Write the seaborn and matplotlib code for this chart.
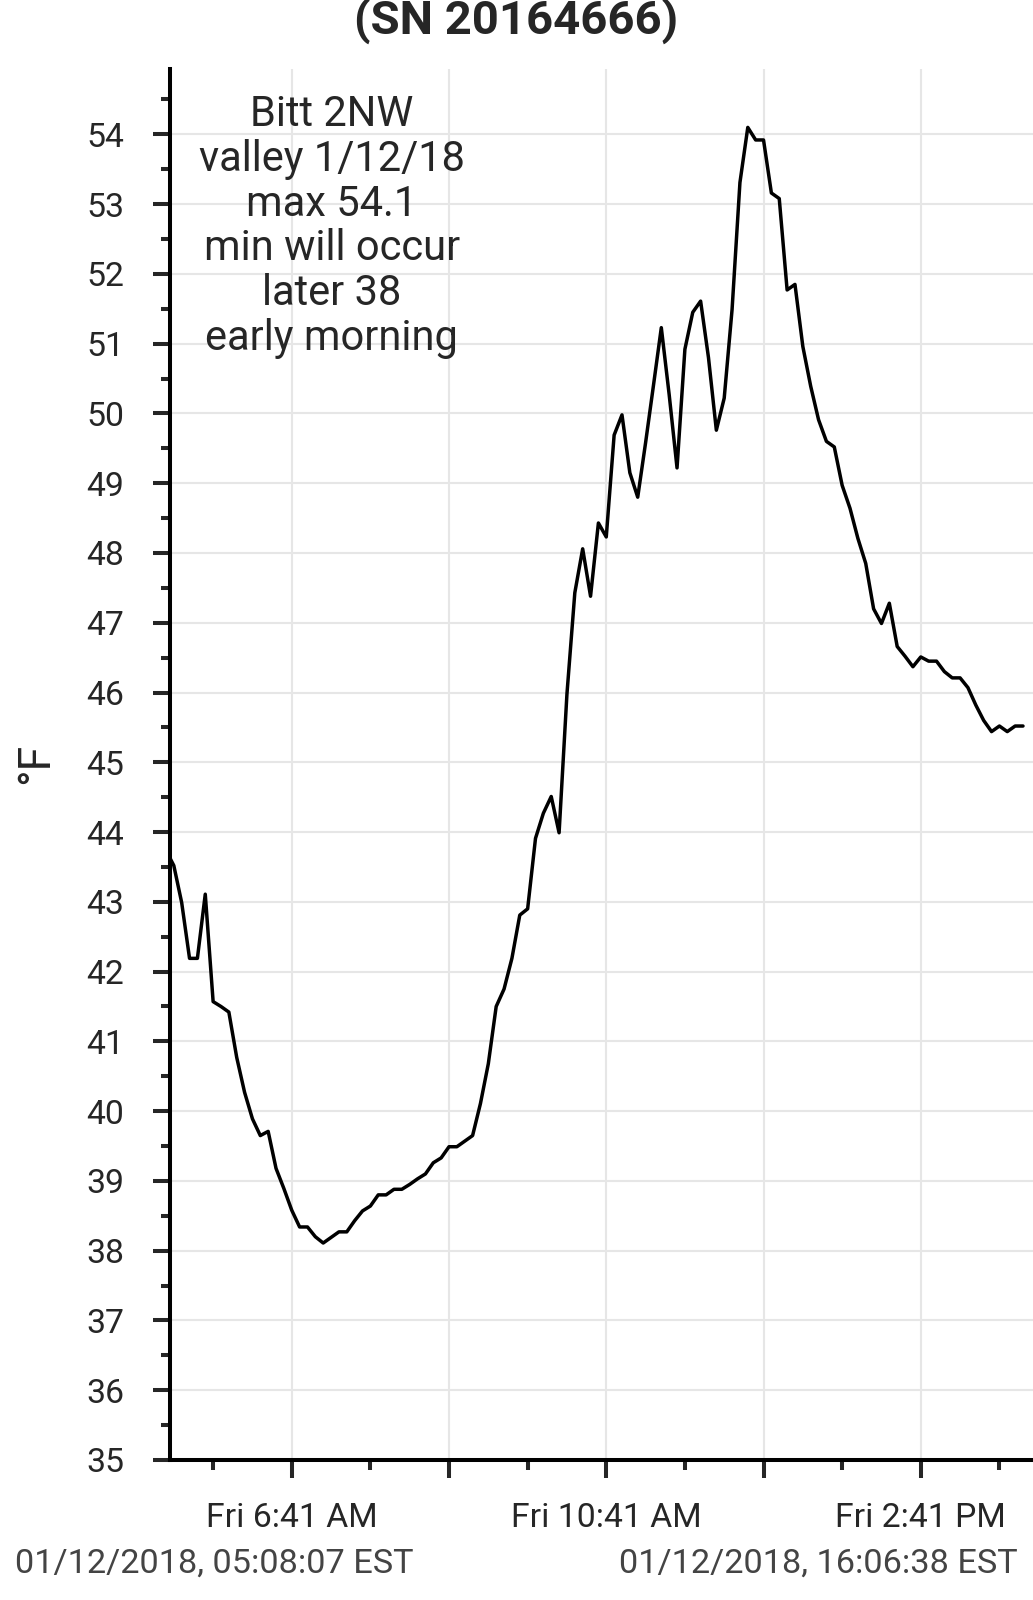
import pandas as pd
import matplotlib
matplotlib.use("Agg")
import matplotlib.pyplot as plt
import matplotlib.dates as mdates
from matplotlib.ticker import MultipleLocator, FixedLocator
import seaborn as sns

# readings from the logger (clock time, deg F)
times = [
    "05:08", "05:11", "05:17", "05:23", "05:29", "05:35", "05:41", "05:47", "05:53", "05:59",
    "06:05", "06:11", "06:17", "06:23", "06:29", "06:35", "06:41", "06:47", "06:53", "06:59",
    "07:05", "07:11", "07:17", "07:23", "07:29", "07:35", "07:41", "07:47", "07:53", "07:59",
    "08:05", "08:11", "08:17", "08:23", "08:29", "08:35", "08:41", "08:47", "08:53", "08:59",
    "09:05", "09:11", "09:17", "09:23", "09:29", "09:35", "09:41", "09:47", "09:53", "09:59",
    "10:05", "10:11", "10:17", "10:23", "10:29", "10:35", "10:41", "10:47", "10:53", "10:59",
    "11:05", "11:11", "11:17", "11:23", "11:29", "11:35", "11:41", "11:47", "11:53", "11:59",
    "12:05", "12:11", "12:17", "12:23", "12:29", "12:35", "12:41", "12:47", "12:53", "12:59",
    "13:05", "13:11", "13:17", "13:23", "13:29", "13:35", "13:41", "13:47", "13:53", "13:59",
    "14:05", "14:11", "14:17", "14:23", "14:29", "14:35", "14:41", "14:47", "14:53", "14:59",
    "15:05", "15:11", "15:17", "15:23", "15:29", "15:35", "15:41", "15:47", "15:53", "15:59",
]
temps = [
    43.63, 43.52, 42.99, 42.19, 42.19, 43.11, 41.57, 41.50, 41.42, 40.77,
    40.27, 39.89, 39.65, 39.71, 39.18, 38.89, 38.58, 38.34, 38.34, 38.20,
    38.11, 38.19, 38.27, 38.27, 38.43, 38.57, 38.64, 38.80, 38.80, 38.88,
    38.88, 38.95, 39.03, 39.10, 39.26, 39.33, 39.49, 39.49, 39.57, 39.65,
    40.11, 40.68, 41.50, 41.75, 42.19, 42.81, 42.90, 43.91, 44.27, 44.51,
    43.99, 45.98, 47.43, 48.06, 47.38, 48.43, 48.23, 49.69, 49.98, 49.15,
    48.80, 49.58, 50.40, 51.23, 50.27, 49.22, 50.92, 51.45, 51.61, 50.80,
    49.76, 50.22, 51.49, 53.31, 54.10, 53.92, 53.92, 53.16, 53.08, 51.77,
    51.85, 50.96, 50.39, 49.91, 49.60, 49.52, 48.97, 48.64, 48.21, 47.85,
    47.20, 46.99, 47.28, 46.66, 46.52, 46.37, 46.51, 46.45, 46.45, 46.30,
    46.21, 46.21, 46.07, 45.82, 45.60, 45.44, 45.52, 45.44, 45.52, 45.52,
]

day = "2018-01-12 "
start_time = "05:08:07"
end_time = "16:06:38"
major_ticks = ["06:41", "08:41", "10:41", "12:41", "14:41"]
major_labels = ["Fri 6:41 AM", "", "Fri 10:41 AM", "", "Fri 2:41 PM"]
minor_ticks = ["05:41", "07:41", "09:41", "11:41", "13:41", "15:41"]

title = "(SN 20164666)"
note = "Bitt 2NW\nvalley 1/12/18\nmax 54.1\nmin will occur\nlater 38\nearly morning"
start_label = "01/12/2018, 05:08:07 EST"
end_label = "01/12/2018, 16:06:38 EST"

df = pd.DataFrame({"time": pd.to_datetime([day + t for t in times]), "temp": temps})

sns.set_style("white")
plt.rcParams["font.family"] = ["Roboto", "DejaVu Sans"]

fig = plt.figure(figsize=(10.33, 16), dpi=100)
ax = fig.add_axes([0.1646, 0.0875, 1 - 0.1646, 0.957 - 0.0875])

sns.lineplot(data=df, x="time", y="temp", color="black", linewidth=2.5, ax=ax)

ax.set_xlim(pd.Timestamp(day + start_time), pd.Timestamp(day + end_time))
ax.set_ylim(35, 54.94)

# axes / ticks
ax.yaxis.set_major_locator(MultipleLocator(1))
ax.yaxis.set_minor_locator(MultipleLocator(0.5))
ax.xaxis.set_major_locator(FixedLocator(mdates.date2num(pd.to_datetime([day + t for t in major_ticks]))))
ax.xaxis.set_minor_locator(FixedLocator(mdates.date2num(pd.to_datetime([day + t for t in minor_ticks]))))
ax.set_xticklabels(major_labels)

ax.tick_params(axis="y", which="major", length=12, width=2.9, pad=21, labelsize=24.3, direction="out", left=True)
ax.tick_params(axis="y", which="minor", length=6.5, width=2.9, direction="out", left=True)
ax.tick_params(axis="x", which="major", length=13, width=2.9, pad=17.5, labelsize=24.3, direction="out", bottom=True)
ax.tick_params(axis="x", which="minor", length=7, width=2.9, direction="out", bottom=True)

for side in ["top", "right"]:
    ax.spines[side].set_visible(False)
for side in ["left", "bottom"]:
    ax.spines[side].set_linewidth(2.9)
    ax.spines[side].set_color("black")

ax.grid(True, which="major", color="#e6e6e6", linewidth=1.5)
ax.set_axisbelow(True)
ax.set_xlabel("")
ax.set_ylabel("")

ax.text(0.1875, 0.8867, note, transform=ax.transAxes, ha="center", va="center",
        fontsize=30, linespacing=1.12)

fig.text(36 / 1033, 1 - 763 / 1600, "°F", rotation=90, ha="center", va="center", fontsize=32)
fig.text(516 / 1033, 1 - 21 / 1600, title, ha="center", va="center", fontsize=34, fontweight="bold")
fig.text(15 / 1033, 0.0225, start_label, ha="left", va="center", fontsize=24.7, color="#444444")
fig.text(1018 / 1033, 0.0225, end_label, ha="right", va="center", fontsize=24.7, color="#444444")

fig.savefig("out.png", dpi=100)
